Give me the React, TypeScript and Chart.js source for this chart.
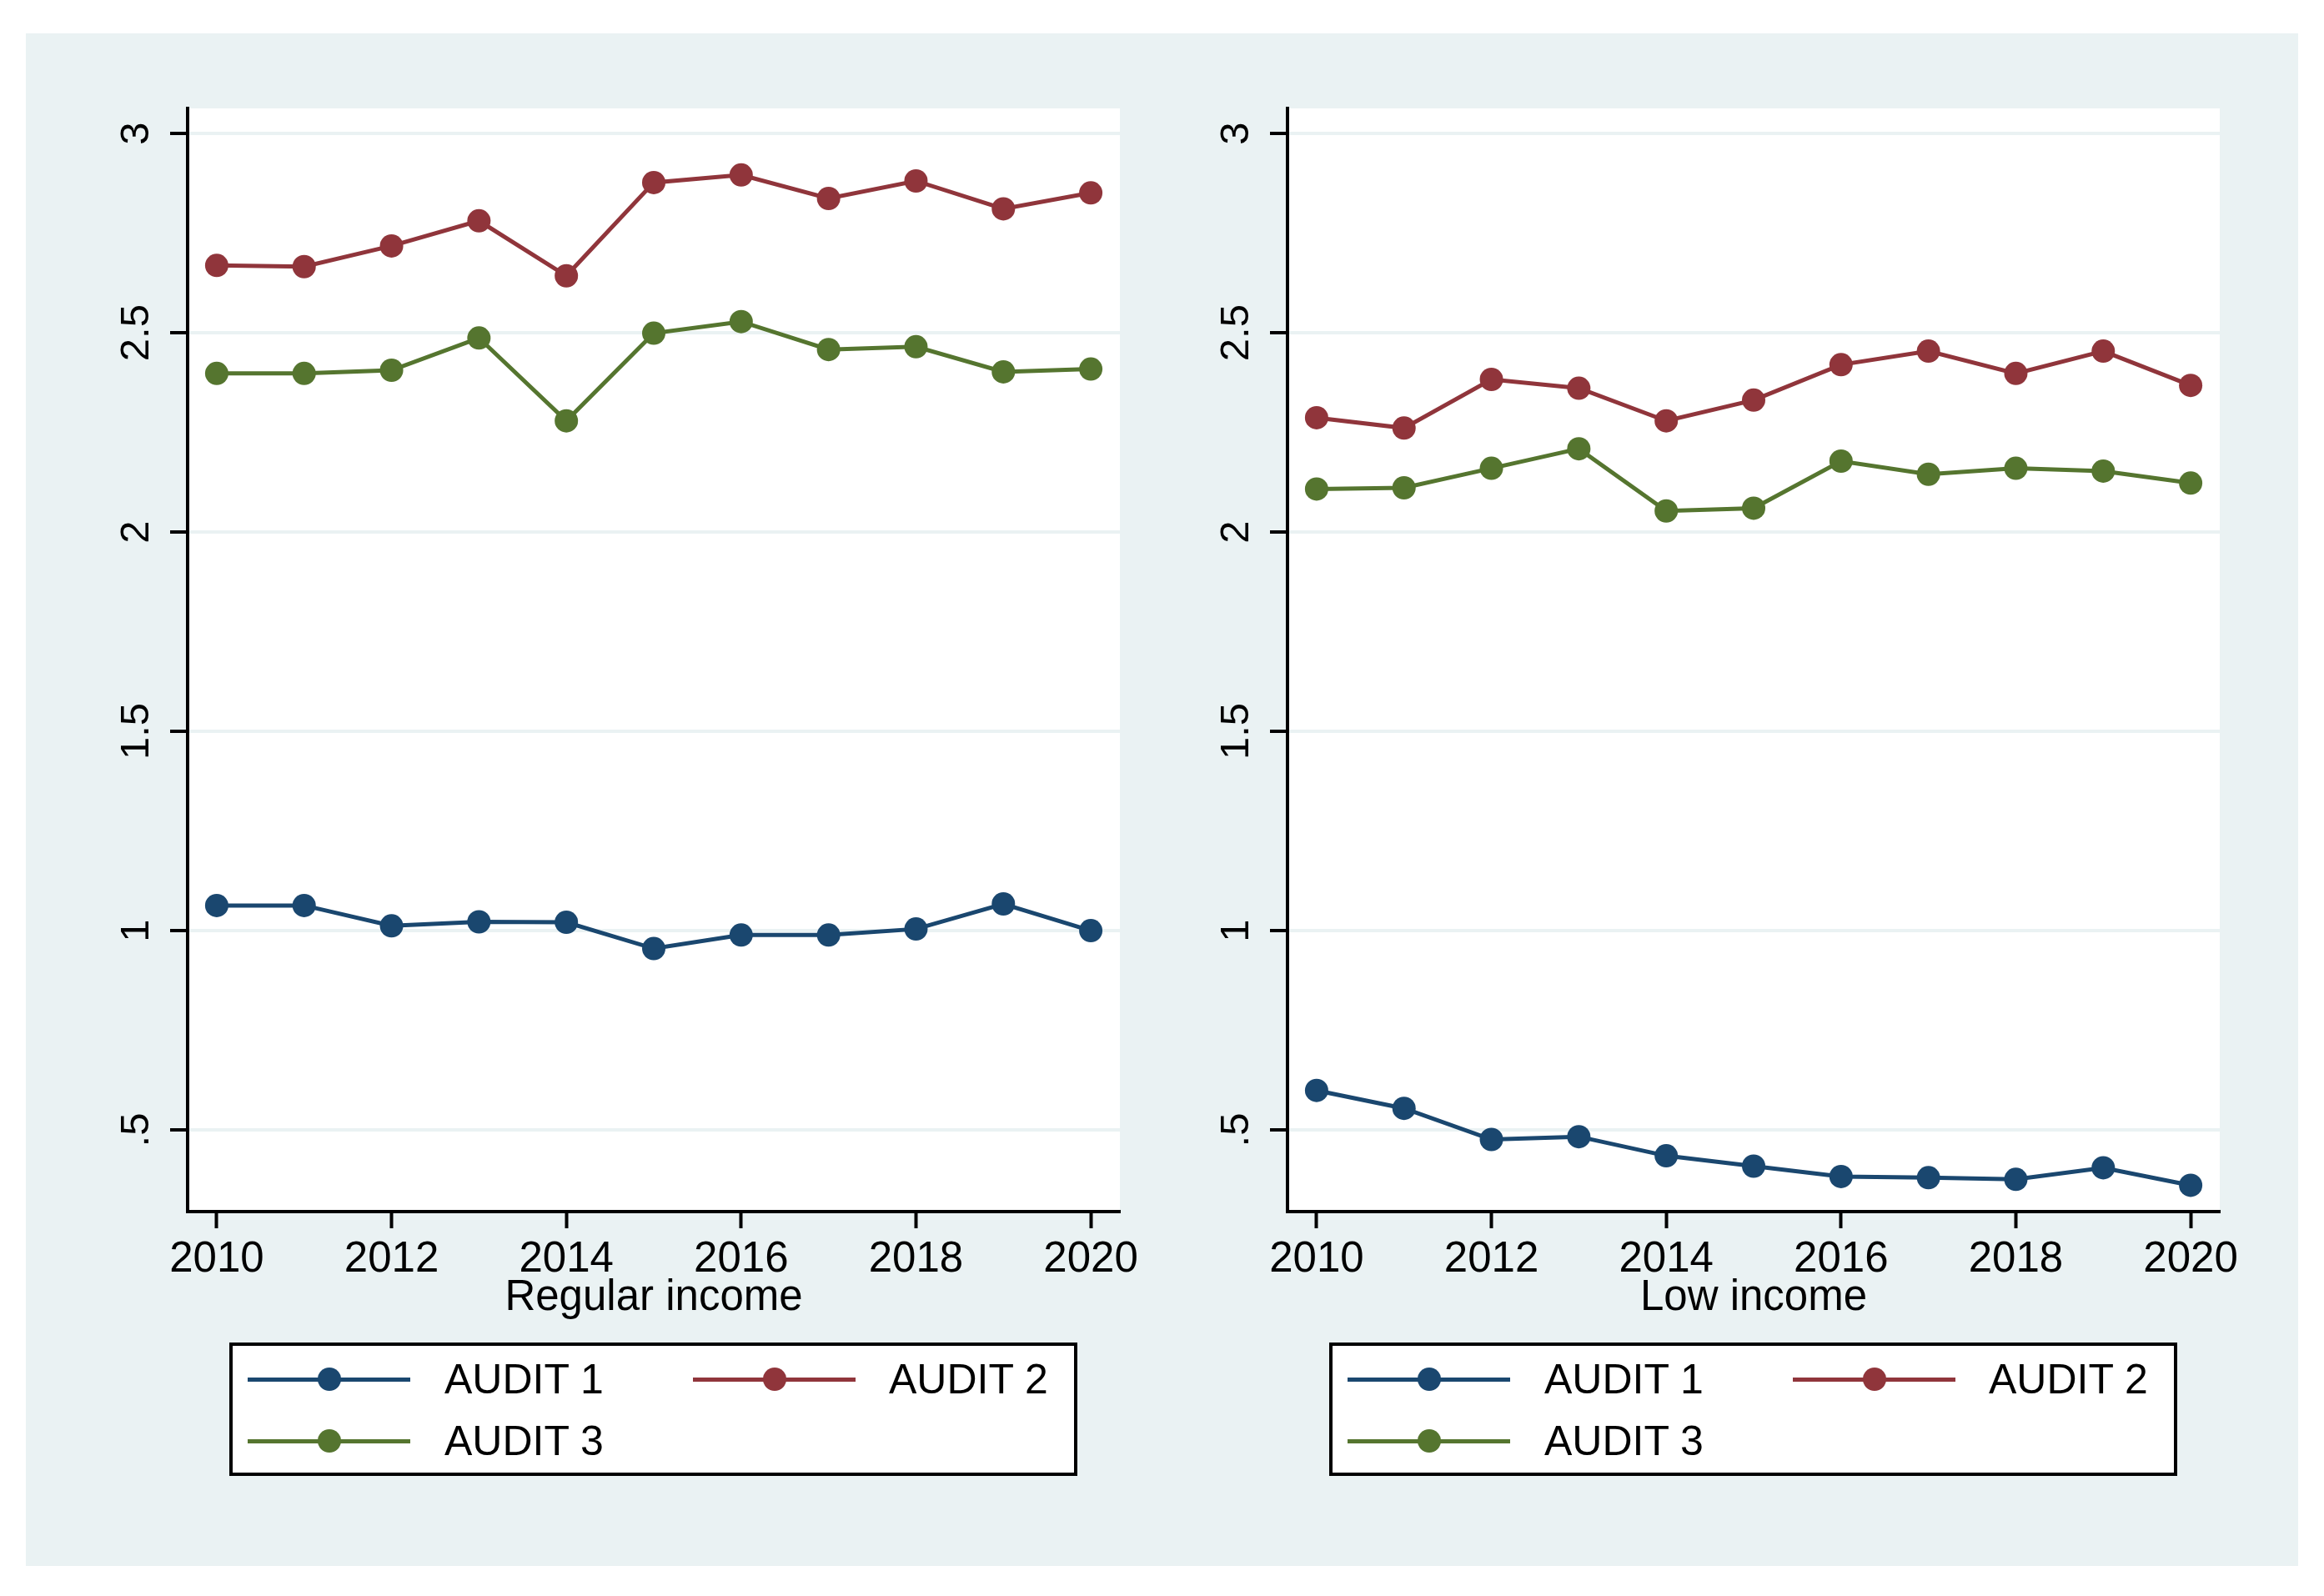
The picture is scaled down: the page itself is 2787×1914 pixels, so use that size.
import React, { useEffect, useRef } from 'react';
import { Chart, registerables } from 'chart.js';

Chart.register(...registerables);

// ---- data ----
const years = [2010, 2011, 2012, 2013, 2014, 2015, 2016, 2017, 2018, 2019, 2020];

const regularAudit1 = [1.063, 1.063, 1.012, 1.022, 1.021, 0.955, 0.989, 0.989, 1.004, 1.067, 1.0];
const regularAudit2 = [2.669, 2.666, 2.718, 2.781, 2.643, 2.877, 2.896, 2.837, 2.881, 2.811, 2.851];
const regularAudit3 = [2.398, 2.398, 2.406, 2.487, 2.279, 2.499, 2.528, 2.458, 2.465, 2.402, 2.409];

const lowAudit1 = [0.599, 0.554, 0.476, 0.483, 0.435, 0.409, 0.383, 0.380, 0.376, 0.405, 0.361];
const lowAudit2 = [2.287, 2.261, 2.383, 2.361, 2.279, 2.331, 2.420, 2.454, 2.398, 2.454, 2.368];
const lowAudit3 = [2.108, 2.111, 2.160, 2.209, 2.053, 2.060, 2.178, 2.145, 2.160, 2.153, 2.123];

const xTickValues = [2010, 2012, 2014, 2016, 2018, 2020];
const yTickValues = [0.5, 1, 1.5, 2, 2.5, 3];
const yTickLabels = ['.5', '1', '1.5', '2', '2.5', '3'];

const seriesLabels = ['AUDIT 1', 'AUDIT 2', 'AUDIT 3'];
const panelTitles = ['Regular income', 'Low income'];

// ---- styles ----
const COLORS = ['#1a476f', '#90353b', '#55752f'];
const BG = '#eaf2f3';
const FONT = '"Liberation Sans", Arial, Helvetica, sans-serif';

const CANVAS_W = 1400;
const CANVAS_H = 1560;

const plotBg = {
  id: 'plotBg',
  beforeDraw(chart: any) {
    const { ctx, chartArea: a } = chart;
    ctx.save();
    ctx.fillStyle = '#ffffff';
    ctx.fillRect(a.left, a.top, a.right - a.left, a.bottom - a.top);
    ctx.restore();
  },
};

function Panel({ series, title, left }: { series: number[][]; title: string; left: number }) {
  const ref = useRef<HTMLCanvasElement | null>(null);

  useEffect(() => {
    if (!ref.current) return;
    const tickFont = { family: FONT, size: 51 };
    const chart = new Chart(ref.current, {
      type: 'line',
      data: {
        datasets: series.map((vals, i) => ({
          label: seriesLabels[i],
          data: years.map((yr, j) => ({ x: yr, y: vals[j] })),
          borderColor: COLORS[i],
          backgroundColor: COLORS[i],
          pointBackgroundColor: COLORS[i],
          pointBorderColor: COLORS[i],
          pointBorderWidth: 0,
          pointRadius: 14,
          borderWidth: 5,
          tension: 0,
          fill: false,
          clip: false as any,
        })),
      },
      options: {
        animation: false,
        responsive: false,
        devicePixelRatio: 1,
        layout: { padding: { top: 90, right: 88, left: 0, bottom: 0 } },
        plugins: { legend: { display: false }, tooltip: { enabled: false } },
        scales: {
          x: {
            type: 'linear',
            min: 2009.667,
            max: 2020.333,
            afterBuildTicks: (s: any) => {
              s.ticks = xTickValues.map((v) => ({ value: v }));
            },
            afterFit: (s: any) => {
              s.height = 147;
              s.paddingLeft = 0;
              s.paddingRight = 0;
            },
            grid: {
              drawOnChartArea: false,
              drawTicks: true,
              tickLength: 20,
              tickColor: '#000',
              tickWidth: 4,
            },
            border: { display: true, color: '#000', width: 4 },
            ticks: {
              font: tickFont,
              color: '#000',
              padding: 7,
              maxRotation: 0,
              minRotation: 0,
              autoSkip: false,
              callback: (v: any) => String(v),
            },
            title: {
              display: true,
              text: title,
              font: { family: FONT, size: 51 },
              color: '#000',
              padding: { top: 0, bottom: 12 },
            },
          },
          y: {
            type: 'linear',
            min: 0.295,
            max: 3.063,
            afterBuildTicks: (s: any) => {
              s.ticks = yTickValues.map((v) => ({ value: v }));
            },
            afterFit: (s: any) => {
              s.width = 194;
              s.paddingTop = 0;
              s.paddingBottom = 0;
            },
            grid: {
              color: BG,
              lineWidth: 4,
              drawTicks: true,
              tickLength: 21,
              tickColor: '#000',
              tickWidth: 4,
            },
            border: { display: true, color: '#000', width: 4 },
            ticks: {
              font: { family: FONT, size: 49 },
              color: '#000',
              padding: 5,
              minRotation: 90,
              maxRotation: 90,
              crossAlign: 'center',
              autoSkip: false,
              callback: (_v: any, i: number) => yTickLabels[i],
            },
          },
        },
      },
      plugins: [plotBg],
    } as any);
    return () => chart.destroy();
  }, [series, title]);

  const box = { left: left - 31 + 244, top: 1570, w: 1017, h: 160 };
  const items = [
    { col: 0, row: 0, s: 0 },
    { col: 1, row: 0, s: 1 },
    { col: 0, row: 1, s: 2 },
  ];
  const colLine = [22, 556];
  const colText = [258, 791];
  const rowY = [44, 118];

  return (
    <>
      <canvas
        ref={ref}
        width={CANVAS_W}
        height={CANVAS_H}
        style={{ position: 'absolute', left: left - 31, top: 0, width: CANVAS_W, height: CANVAS_H }}
      />
      <div
        style={{
          position: 'absolute',
          left: box.left,
          top: box.top,
          width: box.w,
          height: box.h,
          boxSizing: 'border-box',
          border: '4px solid #000',
          background: '#fff',
        }}
      >
        {items.map((it) => (
          <React.Fragment key={it.s}>
            <div
              style={{
                position: 'absolute',
                left: colLine[it.col] - 4,
                top: rowY[it.row] - 4 - 2.5,
                width: 195,
                height: 5,
                background: COLORS[it.s],
              }}
            />
            <div
              style={{
                position: 'absolute',
                left: colLine[it.col] - 4 + 97.5 - 14,
                top: rowY[it.row] - 4 - 14,
                width: 28,
                height: 28,
                borderRadius: '50%',
                background: COLORS[it.s],
              }}
            />
            <div
              style={{
                position: 'absolute',
                left: colText[it.col] - 4,
                top: rowY[it.row] - 4 - 25,
                height: 50,
                lineHeight: '50px',
                fontSize: 50,
                fontFamily: FONT,
                color: '#000',
                whiteSpace: 'nowrap',
              }}
            >
              {seriesLabels[it.s]}
            </div>
          </React.Fragment>
        ))}
      </div>
    </>
  );
}

const regularSeries = [regularAudit1, regularAudit2, regularAudit3];
const lowSeries = [lowAudit1, lowAudit2, lowAudit3];

export default function App() {
  return (
    <div style={{ position: 'absolute', left: 0, top: 0, width: 2787, height: 1914, background: '#fff' }}>
      <div
        style={{
          position: 'absolute',
          left: 31,
          top: 40,
          width: 2756 - 31,
          height: 1878 - 40,
          background: BG,
          overflow: 'hidden',
        }}
      >
        <Panel series={regularSeries} title={panelTitles[0]} left={31} />
        <Panel series={lowSeries} title={panelTitles[1]} left={31 + 1319} />
      </div>
    </div>
  );
}
